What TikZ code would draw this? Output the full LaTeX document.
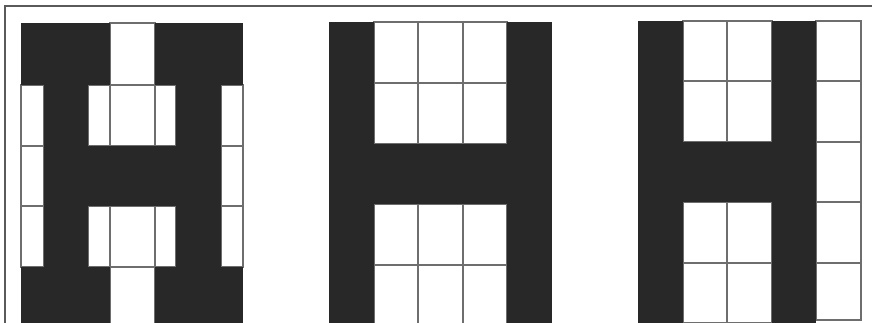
\documentclass[tikz,border=0pt]{standalone}
\begin{document}
\begin{tikzpicture}[x=1pt,y=-1pt,
  cellbox/.style={draw=gridgray,fill=white,line width=1.3pt},
  inkfill/.style={fill=inkblack},
  framestyle/.style={draw=framegray,line width=1.3pt}]
\definecolor{inkblack}{HTML}{282828}
\definecolor{gridgray}{HTML}{6E6E6E}
\definecolor{framegray}{HTML}{5A5A5A}
\useasboundingbox (0,0) rectangle (872,322);
\clip (0,0) rectangle (872,322);
\fill[white] (0,0) rectangle (872,322);
% frame
\draw[framestyle] (5,330) -- (5,6) -- (880,6);

% ---------- grid 1 ----------
\draw[cellbox] (110,23) rectangle (155,85);
\foreach \ya/\yb in {85/146,146/206,206/267}{
  \draw[cellbox] (21,\ya) rectangle (44,\yb);
  \draw[cellbox] (221,\ya) rectangle (243,\yb);
}
\foreach \ya/\yb in {85/146,206/267}{
  \draw[cellbox] (88,\ya) rectangle (110,\yb);
  \draw[cellbox] (110,\ya) rectangle (155,\yb);
  \draw[cellbox] (155,\ya) rectangle (176,\yb);
}
\draw[cellbox] (110,267) rectangle (155,330);
\fill[inkfill] (21,23) rectangle (110,85);
\fill[inkfill] (155,23) rectangle (243,85);
\fill[inkfill] (44,85) rectangle (88,267);
\fill[inkfill] (176,85) rectangle (221,267);
\fill[inkfill] (88,146) rectangle (176,206);
\fill[inkfill] (21,267) rectangle (110,330);
\fill[inkfill] (155,267) rectangle (243,330);

% ---------- grid 2 ----------
\foreach \xa/\xb in {374/418,418/463,463/507}{
  \foreach \ya/\yb in {22/83,83/144,204/265,265/326}{
    \draw[cellbox] (\xa,\ya) rectangle (\xb,\yb);
  }
}
\fill[inkfill] (329,22) rectangle (374,330);
\fill[inkfill] (507,22) rectangle (552,330);
\fill[inkfill] (374,144) rectangle (507,204);

% ---------- grid 3 ----------
\foreach \xa/\xb in {683/727,727/772}{
  \foreach \ya/\yb in {21/81,81/142,202/263,263/323}{
    \draw[cellbox] (\xa,\ya) rectangle (\xb,\yb);
  }
}
\foreach \ya/\yb in {21/81,81/142,142/202,202/263,263/320}{
  \draw[cellbox] (816,\ya) rectangle (861,\yb);
}
\fill[inkfill] (638,21) rectangle (683,330);
\fill[inkfill] (772,21) rectangle (816,330);
\fill[inkfill] (683,142) rectangle (772,202);
\end{tikzpicture}
\end{document}
